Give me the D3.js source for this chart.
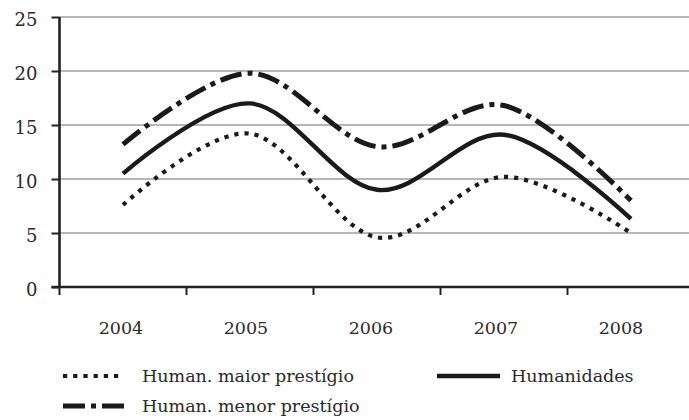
<!DOCTYPE html>
<html>
<head>
<meta charset="utf-8">
<script src="https://cdn.jsdelivr.net/npm/d3@7"></script>
<style>
  body { margin: 0; background: #fff; }
  text { font-family: "DejaVu Serif", serif; fill: #2a2a2a; }
</style>
</head>
<body>
<div class="chart"></div>
<script>
const years = ['2004', '2005', '2006', '2007', '2008'];
const maiorPrestigio = [7.6, 14.2, 4.6, 10.2, 5.0];
const humanidades = [10.5, 17.0, 9.0, 14.1, 6.3];
const menorPrestigio = [13.2, 19.8, 13.0, 16.8, 8.0];
const yTicks = [0, 5, 10, 15, 20, 25];

const seriesNames = ['Human. maior prestígio', 'Humanidades', 'Human. menor prestígio'];

const width = 689, height = 420;
const plotLeft = 59.5, plotTop = 17, plotBottom = 287;

const svg = d3.select('.chart')
    .append('svg')
    .attr('width', width)
    .attr('height', height);

const xScale = d3.scaleBand()
    .domain(years)
    .range([plotLeft, plotLeft + 127 * years.length]);

// year labels sit a bit left of the band centres in the original
const labelScale = d3.scalePoint()
    .domain(years)
    .range([121, 621]);

const yScale = d3.scaleLinear()
    .domain([0, 25])
    .range([plotBottom, plotTop]);

// gridlines
svg.selectAll('.grid')
    .data(yTicks.filter(d => d > 0))
    .enter()
    .append('line')
    .attr('x1', plotLeft)
    .attr('x2', width)
    .attr('y1', d => yScale(d))
    .attr('y2', d => yScale(d))
    .attr('stroke', '#6e6e6e')
    .attr('stroke-width', 1.2);

// y axis
const yAxis = d3.axisLeft(yScale)
    .tickValues(yTicks)
    .tickSize(8)
    .tickPadding(14);

const gy = svg.append('g')
    .attr('transform', `translate(${plotLeft},0)`)
    .call(yAxis);
gy.select('.domain').remove();
gy.selectAll('.tick line').attr('stroke', '#222').attr('stroke-width', 2);
gy.selectAll('.tick text')
    .attr('font-size', 18)
    .attr('font-family', '"DejaVu Serif", serif')
    .attr('dy', '0.45em')
    .attr('fill', '#2a2a2a');
gy.append('line')
    .attr('y1', yScale(25)).attr('y2', yScale(0))
    .attr('stroke', '#222').attr('stroke-width', 2.6);

// x axis
svg.append('line')
    .attr('x1', plotLeft - 8).attr('x2', width)
    .attr('y1', yScale(0)).attr('y2', yScale(0))
    .attr('stroke', '#222').attr('stroke-width', 2.6);

const boundaries = years.map(d => xScale(d));
svg.selectAll('.xtick')
    .data(boundaries)
    .enter()
    .append('line')
    .attr('x1', d => d).attr('x2', d => d)
    .attr('y1', yScale(0)).attr('y2', yScale(0) + 8)
    .attr('stroke', '#222').attr('stroke-width', 2);

svg.selectAll('.xlabel')
    .data(years)
    .enter()
    .append('text')
    .attr('x', d => labelScale(d))
    .attr('y', 334)
    .attr('text-anchor', 'middle')
    .attr('font-size', 17.5)
    .text(d => d);

// lines
const line = d3.line()
    .x((d, i) => xScale(years[i]) + xScale.bandwidth() / 2)
    .y(d => yScale(d))
    .curve(d3.curveCatmullRom.alpha(0));

const styles = [
    {data: maiorPrestigio, w: 4.2, dash: '4.2,6'},
    {data: humanidades, w: 4.4, dash: null},
    {data: menorPrestigio, w: 5, dash: '22,6,5,6'}
];

styles.forEach(s => {
    svg.append('path')
        .datum(s.data)
        .attr('d', line)
        .attr('fill', 'none')
        .attr('stroke', '#1a1a1a')
        .attr('stroke-width', s.w)
        .attr('stroke-dasharray', s.dash);
});

// legend
const legendPos = [
    {x: 63, y: 376, len: 60},
    {x: 437, y: 376, len: 63},
    {x: 63, y: 406, len: 63}
];

legendPos.forEach((p, i) => {
    svg.append('line')
        .attr('x1', p.x).attr('x2', p.x + p.len)
        .attr('y1', p.y).attr('y2', p.y)
        .attr('stroke', '#1a1a1a')
        .attr('stroke-width', styles[i].w)
        .attr('stroke-dasharray', styles[i].dash);
    svg.append('text')
        .attr('x', i == 1 ? 511 : 142)
        .attr('y', p.y + 6)
        .attr('font-size', 17.5)
        .text(seriesNames[i]);
});
</script>
</body>
</html>
